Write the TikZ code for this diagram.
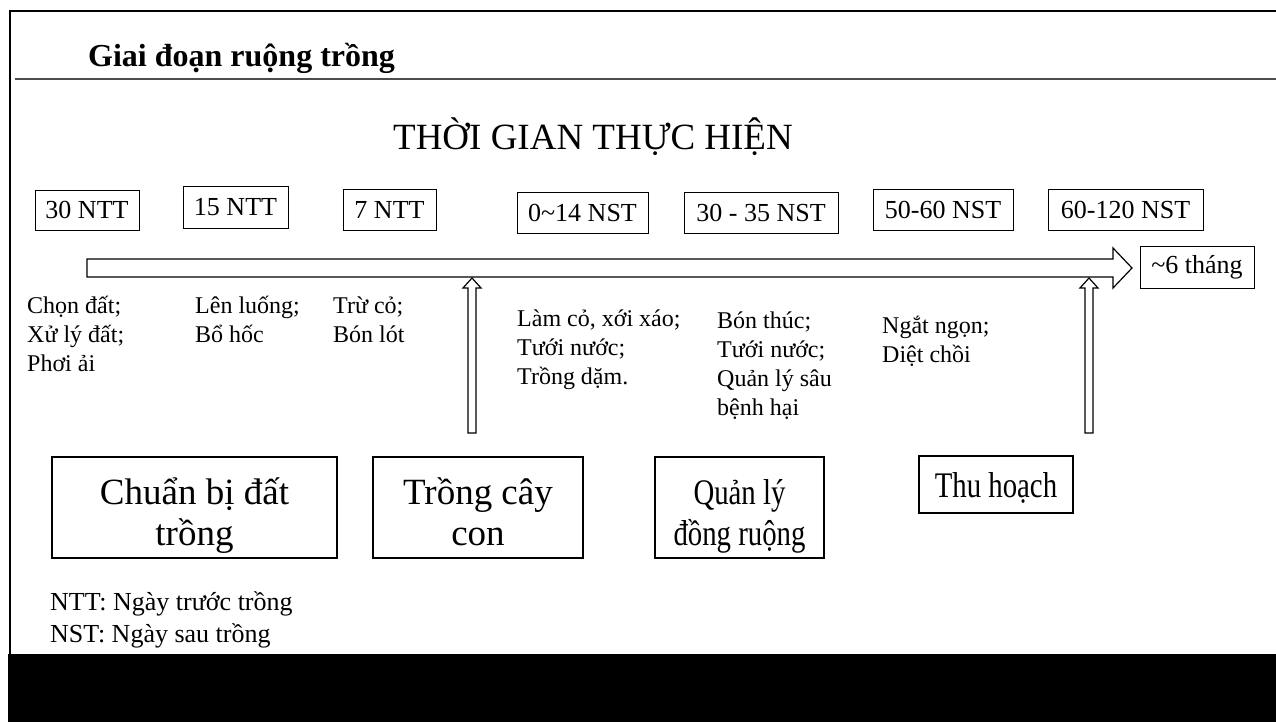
\documentclass[tikz,border=0pt]{standalone}
\usepackage{fontspec}
\usetikzlibrary{calc}
\setmainfont{Liberation Serif}
\newfontfamily\narrowserif[FakeStretch=0.8]{Liberation Serif}

% upward block arrow from #1 (foot) to #2 (tip)
\newcommand\blockup[2]{%
  \draw[blockarrow] ($(#1)+(-4,0)$) -- ($(#2)+(-4,10)$) -- ($(#2)+(-9,10)$) -- (#2)
    -- ($(#2)+(9,10)$) -- ($(#2)+(4,10)$) -- ($(#1)+(4,0)$) -- cycle;}
% left-aligned lines hanging from the first baseline
\newcommand\linesdown[1]{\begin{tabular}[t]{@{}l@{}}#1\end{tabular}}
% centred lines, lowered by #1 inside their box
\newcommand\linescentre[2]{\raisebox{-#1}[\height][\depth]{\begin{tabular}{@{}c@{}}#2\end{tabular}}}

\begin{document}
\begin{tikzpicture}[x=1pt,y=-1pt,
  tag/.style={draw, line width=0.9pt, inner sep=0pt, minimum height=41pt,
    font=\fontsize{26}{31}\selectfont},
  note/.style={anchor=base west, inner sep=0pt,
    font=\fontsize{24}{29}\selectfont},
  stage/.style={draw, line width=2pt, inner sep=0pt,
    font=\fontsize{37}{41}\selectfont},
  narrowstage/.style={stage, font=\fontsize{36}{41}\narrowserif},
  blockarrow/.style={draw, fill=white, line width=1.2pt, line join=miter}]

% page and frame
\fill[white] (0,0) rectangle (1276,722);
\useasboundingbox (0,0) rectangle (1276,722);
\draw[line width=2.5pt] (9,11) -- (1276,11);
\draw[line width=2.5pt] (10,10) -- (10,654);
\draw[line width=1.5pt, black!70] (15,79) -- (1276,79);
\fill[black] (8,654) rectangle (1276,722);

% headings
\node[anchor=base west, inner sep=0pt, font=\fontsize{32}{38}\selectfont\bfseries]
  (title) at (88,67) {Giai đoạn ruộng trồng};
\node[anchor=base, inner sep=0pt, font=\fontsize{37}{43}\selectfont]
  (heading) at (593,150) {THỜI GIAN THỰC HIỆN};

% time tags
\node[tag, minimum width=104pt, minimum height=40pt] (t1) at (87,210) {30 NTT};
\node[tag, minimum width=105pt, minimum height=42pt] (t2) at (235.5,207) {15 NTT};
\node[tag, minimum width=93pt] (t3) at (389.5,209.5) {7 NTT};
\node[tag, minimum width=131pt] (t4) at (582.5,212.5) {0\textasciitilde14 NST};
\node[tag, minimum width=154pt] (t5) at (761,212.5) {30 - 35 NST};
\node[tag, minimum width=140pt] (t6) at (943,209.5) {50-60 NST};
\node[tag, minimum width=155pt] (t7) at (1125.5,209.5) {60-120 NST};
\node[tag, minimum width=114pt, minimum height=42pt] (t8) at (1197,267) {\textasciitilde6 tháng};

% timeline arrow
\coordinate (tlA) at (87,268);
\coordinate (tlB) at (1132,268);
\draw[blockarrow] ($(tlA)+(0,-9)$) -- ($(tlB)+(-19,-9)$) -- ($(tlB)+(-19,-20)$) -- (tlB)
  -- ($(tlB)+(-19,20)$) -- ($(tlB)+(-19,9)$) -- ($(tlA)+(0,9)$) -- cycle;

% tasks
\node[note] (n1) at (27,313) {\linesdown{Chọn đất;\\Xử lý đất;\\Phơi ải}};
\node[note] (n2) at (195,313) {\linesdown{Lên luống;\\Bổ hốc}};
\node[note] (n3) at (333,313) {\linesdown{Trừ cỏ;\\Bón lót}};
\node[note] (n4) at (517,326) {\linesdown{Làm cỏ, xới xáo;\\Tưới nước;\\Trồng dặm.}};
\node[note] (n5) at (717,328) {\linesdown{Bón thúc;\\Tưới nước;\\Quản lý sâu\\bệnh hại}};
\node[note] (n6) at (882,333) {\linesdown{Ngắt ngọn;\\Diệt chồi}};

% upward arrows to the timeline
\coordinate (upAfoot) at (472,433);
\coordinate (upAtip) at (472,278);
\coordinate (upBfoot) at (1089,433);
\coordinate (upBtip) at (1089,278);
\blockup{upAfoot}{upAtip}
\blockup{upBfoot}{upBtip}

% stages
\node[stage, minimum width=285pt, minimum height=101pt] (s1) at (194.5,507.5)
  {\linescentre{9pt}{Chuẩn bị đất\\trồng}};
\node[stage, minimum width=210pt, minimum height=101pt] (s2) at (478,507.5)
  {\linescentre{9pt}{Trồng cây\\con}};
\node[narrowstage, minimum width=169pt, minimum height=101pt] (s3) at (739.5,507.5)
  {\linescentre{9pt}{Quản lý\\đồng ruộng}};
\node[narrowstage, minimum width=154pt, minimum height=57pt] (s4) at (996,484.5)
  {\linescentre{5pt}{Thu hoạch}};

% legend
\node[anchor=base west, inner sep=0pt, font=\fontsize{26}{32}\selectfont]
  (legend) at (50,610) {\linesdown{NTT: Ngày trước trồng\\NST: Ngày sau trồng}};
\end{tikzpicture}
\end{document}
